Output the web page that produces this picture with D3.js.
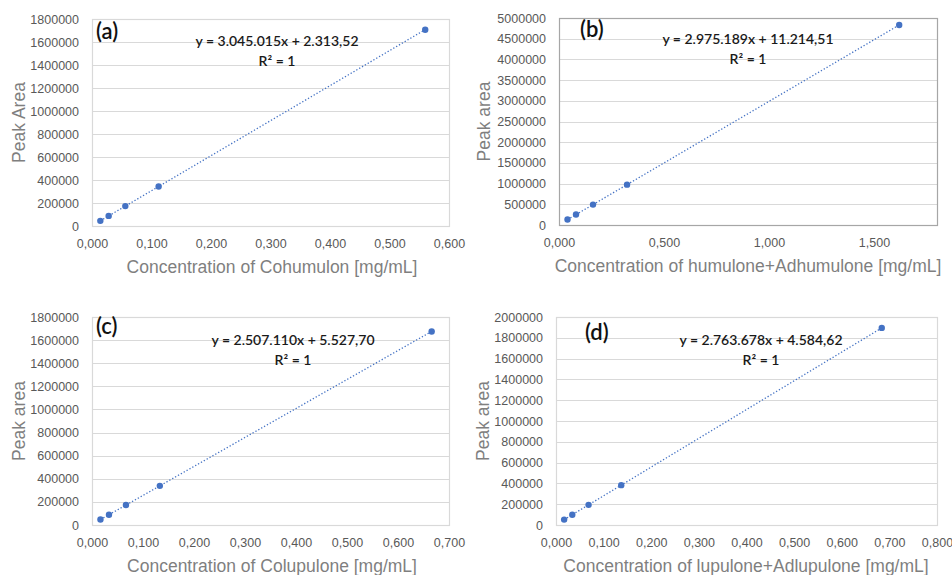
<!DOCTYPE html>
<html>
<head>
<meta charset="utf-8">
<script src="https://cdn.jsdelivr.net/npm/d3@7"></script>
<style>
  body { margin: 0; background: #fff; }
  svg { display: block; }
  .tick text { font-family: "Liberation Sans", Arial, sans-serif; font-size: 12.5px; fill: #595959; }
  .axis-title { font-family: "Liberation Sans", Arial, sans-serif; font-size: 17.5px; fill: #7f7f7f; }
  .eq { font-family: Lato, "Open Sans", sans-serif; font-size: 14px; font-weight: 600; fill: #1a1a1a; }
  .tag { font-family: Lato, "Open Sans", sans-serif; font-size: 22px; font-weight: 600; fill: #111; }
</style>
</head>
<body>
<div id="chart"></div>
<script>
// Panel tags and axis titles
let panelTags = ["(a)", "(b)", "(c)", "(d)"];
let xTitles = [
  "Concentration of Cohumulon [mg/mL]",
  "Concentration of humulone+Adhumulone [mg/mL]",
  "Concentration of Colupulone [mg/mL]",
  "Concentration of lupulone+Adlupulone [mg/mL]"
];
let yTitles = ["Peak Area", "Peak area", "Peak area", "Peak area"];

// Measured points (concentration, peak area)
let concA = [0.014, 0.028, 0.056, 0.112, 0.560];
let areaA = [45000, 88000, 173000, 343000, 1707000];
let concB = [0.0405, 0.081, 0.162, 0.324, 1.620];
let areaB = [132000, 252000, 493000, 975000, 4831000];
let concC = [0.0166, 0.0333, 0.0666, 0.133, 0.666];
let areaC = [47000, 89000, 172500, 339000, 1675000];
let concD = [0.0171, 0.0342, 0.0684, 0.137, 0.684];
let areaD = [52000, 99000, 193600, 383200, 1895000];

// Trendline equations
let slopes = [3045015, 2975189, 2507110, 2763678];
let intercepts = [2313.52, 11214.51, 5527.70, 4584.62];
let eqLabels = [
  "y = 3.045.015x + 2.313,52",
  "y = 2.975.189x + 11.214,51",
  "y = 2.507.110x + 5.527,70",
  "y = 2.763.678x + 4.584,62"
];

// Axis ticks
let xTicksA = [0, 0.1, 0.2, 0.3, 0.4, 0.5, 0.6];
let xTicksB = [0, 0.5, 1.0, 1.5];
let xTicksC = [0, 0.1, 0.2, 0.3, 0.4, 0.5, 0.6, 0.7];
let xTicksD = [0, 0.1, 0.2, 0.3, 0.4, 0.5, 0.6, 0.7, 0.8];
let yTicksA = [0, 200000, 400000, 600000, 800000, 1000000, 1200000, 1400000, 1600000, 1800000];
let yTicksB = [0, 500000, 1000000, 1500000, 2000000, 2500000, 3000000, 3500000, 4000000, 4500000, 5000000];
let yTicksC = [0, 200000, 400000, 600000, 800000, 1000000, 1200000, 1400000, 1600000, 1800000];
let yTicksD = [0, 200000, 400000, 600000, 800000, 1000000, 1200000, 1400000, 1600000, 1800000, 2000000];

let width = 952, height = 575;
let blue = "#4472c4";

let panels = [
  { x: concA, y: areaA, xMax: 0.6, yMax: 1800000, xTicks: xTicksA, yTicks: yTicksA,
    box: [92, 449, 19, 226], tag: [96, 39], eq: [277, 46], xt: 272, yt: 19, frame: "#d9d9d9" },
  { x: concB, y: areaB, xMax: 1.8, yMax: 5000000, xTicks: xTicksB, yTicks: yTicksB,
    box: [559, 937, 18, 225], tag: [580, 37], eq: [748, 44], xt: 748, yt: 484, frame: "#a6a6a6" },
  { x: concC, y: areaC, xMax: 0.7, yMax: 1800000, xTicks: xTicksC, yTicks: yTicksC,
    box: [92, 449, 317, 525], tag: [96, 334], eq: [293, 345], xt: 272, yt: 19, frame: "#d9d9d9" },
  { x: concD, y: areaD, xMax: 0.8, yMax: 2000000, xTicks: xTicksD, yTicks: yTicksD,
    box: [556, 937, 317, 525], tag: [585, 340], eq: [761, 345], xt: 746, yt: 483, frame: "#d9d9d9" }
];

let svg = d3.select("#chart").append("svg")
  .attr("width", width)
  .attr("height", height);

let fmtX = function(d) { return d3.format(".3f")(d).replace(".", ","); };

panels.forEach(function(p, i) {
  let [l, r, t, b] = p.box;
  let x = d3.scaleLinear().domain([0, p.xMax]).range([l, r]);
  let y = d3.scaleLinear().domain([0, p.yMax]).range([b, t]);
  let g = svg.append("g");

  // gridlines
  g.selectAll("line.grid")
    .data(p.yTicks)
    .enter().append("line")
    .attr("class", "grid")
    .attr("x1", l).attr("x2", r)
    .attr("y1", function(d) { return Math.round(y(d)) + 0.5; })
    .attr("y2", function(d) { return Math.round(y(d)) + 0.5; })
    .style("stroke", "#d9d9d9")
    .style("stroke-width", 1.2);

  // plot frame
  g.append("rect")
    .attr("x", l + 0.5).attr("y", t + 0.5)
    .attr("width", r - l).attr("height", b - t)
    .style("fill", "none")
    .style("stroke", p.frame)
    .style("stroke-width", 1.2);

  // axes (labels only)
  let yAxis = g.append("g")
    .attr("transform", "translate(" + (l - 10) + ",0)")
    .call(d3.axisLeft(y).tickValues(p.yTicks).tickSize(0).tickFormat(d3.format("d")));
  yAxis.select(".domain").remove();

  let xAxis = g.append("g")
    .attr("transform", "translate(0," + (b + 10) + ")")
    .call(d3.axisBottom(x).tickValues(p.xTicks).tickSize(0).tickFormat(fmtX));
  xAxis.select(".domain").remove();

  // trendline over data range
  let xs = d3.extent(p.x);
  g.append("line")
    .attr("x1", x(xs[0])).attr("y1", y(slopes[i] * xs[0] + intercepts[i]))
    .attr("x2", x(xs[1])).attr("y2", y(slopes[i] * xs[1] + intercepts[i]))
    .style("stroke", blue)
    .style("stroke-width", 1.3)
    .style("stroke-dasharray", "1.3,2");

  // points
  g.selectAll("circle")
    .data(p.x)
    .enter().append("circle")
    .attr("cx", function(d) { return x(d); })
    .attr("cy", function(d, j) { return y(p.y[j]); })
    .attr("r", 3.2)
    .style("fill", blue);

  // equation and R²
  g.append("text")
    .attr("class", "eq")
    .attr("x", p.eq[0]).attr("y", p.eq[1])
    .attr("text-anchor", "middle")
    .text(eqLabels[i]);
  g.append("text")
    .attr("class", "eq")
    .attr("x", p.eq[0]).attr("y", p.eq[1] + 20)
    .attr("text-anchor", "middle")
    .text("R² = 1");

  // panel tag
  g.append("text")
    .attr("class", "tag")
    .attr("x", p.tag[0]).attr("y", p.tag[1])
    .text(panelTags[i]);

  // axis titles
  g.append("text")
    .attr("class", "axis-title")
    .attr("x", p.xt).attr("y", b + 47)
    .attr("text-anchor", "middle")
    .text(xTitles[i]);
  g.append("text")
    .attr("class", "axis-title")
    .attr("transform", "translate(" + (p.yt + 6) + "," + ((t + b) / 2) + ") rotate(-90)")
    .attr("text-anchor", "middle")
    .text(yTitles[i]);
});
</script>
</body>
</html>
